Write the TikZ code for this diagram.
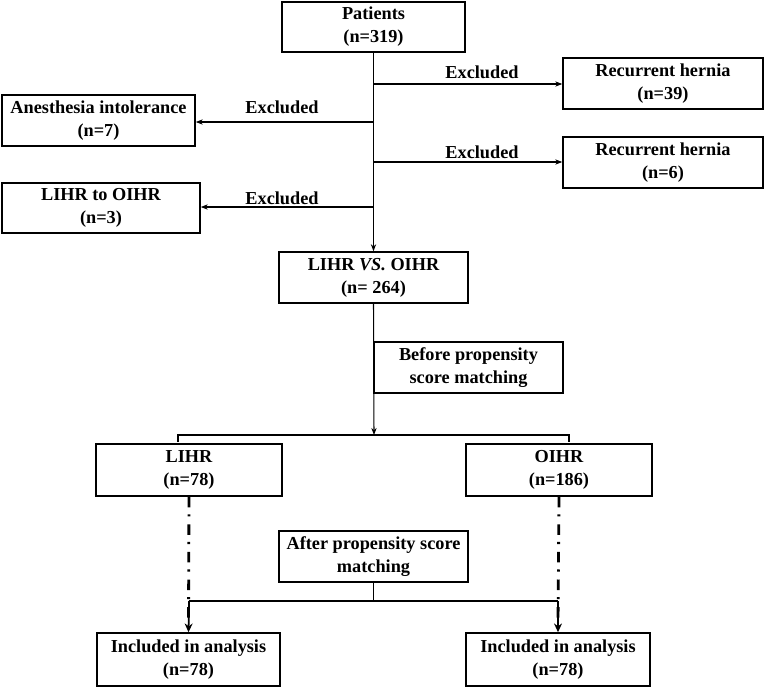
\documentclass[tikz,border=0pt]{standalone}
\usepackage{fontspec}
\setmainfont{Liberation Serif}
\usepackage{tikz}
\usetikzlibrary{arrows.meta}

\begin{document}
\begin{tikzpicture}[x=0.02cm, y=-0.02cm, line width=0.6pt,
    box/.style={draw, line width=0.85pt, align=center, inner sep=0pt,
                font=\fontsize{10.4}{13}\selectfont\bfseries},
    lbl/.style={font=\fontsize{10.4}{13}\selectfont\bfseries},
    arr/.style={-{Stealth[length=4pt, width=3pt]}},
    bigarr/.style={-{Stealth[length=5pt, width=4.5pt]}},
    dashdotline/.style={line width=1.6pt, dash pattern=on 6pt off 4pt on 1.2pt off 4.5pt}]

\useasboundingbox (0, 0) rectangle (764, 687);

% draw boxes
\node[box, minimum width=183*0.02cm, minimum height=50*0.02cm] (pat) at (373.5, 27) {Patients\\(n=319)};
\node[box, minimum width=200*0.02cm, minimum height=51*0.02cm] (rhA) at (663, 83.5) {Recurrent hernia\\(n=39)};
\node[box, minimum width=193*0.02cm, minimum height=51*0.02cm] (anes) at (98.5, 120.5) {Anesthesia intolerance\\(n=7)};
\node[box, minimum width=200*0.02cm, minimum height=51*0.02cm] (rhB) at (663, 162.5) {Recurrent hernia\\(n=6)};
\node[box, minimum width=198*0.02cm, minimum height=50*0.02cm] (conv) at (101, 208) {LIHR to OIHR\\(n=3)};
\node[box, minimum width=189*0.02cm, minimum height=51*0.02cm] (vs) at (373.5, 277.5) {LIHR \textit{VS.} OIHR\\(n= 264)};
\node[box, minimum width=189*0.02cm, minimum height=51*0.02cm] (before) at (468.5, 367.5) {Before propensity\\score matching};
\node[box, minimum width=186*0.02cm, minimum height=52*0.02cm] (lihr) at (189, 470) {LIHR\\(n=78)};
\node[box, minimum width=186*0.02cm, minimum height=52*0.02cm] (oihr) at (559, 470) {OIHR\\(n=186)};
\node[box, minimum width=189*0.02cm, minimum height=51*0.02cm] (after) at (373.5, 556.5) {After propensity score\\matching};
\node[box, minimum width=183*0.02cm, minimum height=53*0.02cm] (incA) at (188.5, 659.5) {Included in analysis\\(n=78)};
\node[box, minimum width=184*0.02cm, minimum height=53*0.02cm] (incB) at (558, 659.5) {Included in analysis\\(n=78)};

% branch points on the main line
\coordinate (bA) at (374, 84);
\coordinate (bB) at (374, 122);
\coordinate (bC) at (374, 162);
\coordinate (bD) at (374, 207);
\coordinate (split) at (374, 435);
\coordinate (tickL) at (178, 442);
\coordinate (tickR) at (569, 442);
\coordinate (join) at (373.5, 601);
\coordinate (joinL) at (189, 601);
\coordinate (joinR) at (558, 601);

% draw main line
\draw[arr] (pat.south) -- (vs.north);
\draw[arr] (vs.south) -- (split);

% draw exclusions
\draw[arr] (bA) -- (rhA.west |- bA);
\draw[arr] (bB) -- (anes.east |- bB);
\draw[arr] (bC) -- (rhB.west |- bC);
\draw[arr] (bD) -- (conv.east |- bD);

\node[lbl] at (482, 72) {Excluded};
\node[lbl] at (282, 107) {Excluded};
\node[lbl] at (482, 152) {Excluded};
\node[lbl] at (282, 198) {Excluded};

% draw split bracket
\draw (tickL) |- (split) -| (tickR);

% draw matching lines
\draw[dashdotline] (lihr.south) -- ([yshift=0.2cm]incA.north);
\draw[dashdotline] (oihr.south) -- ([yshift=0.2cm]incB.north);
\draw[bigarr, line width=1pt] (joinL) -- (incA.north);
\draw[bigarr, line width=1pt] (joinR) -- (incB.north);
\draw (after.south) -- (join);
\draw (joinL) -- (joinR);

\end{tikzpicture}
\end{document}
